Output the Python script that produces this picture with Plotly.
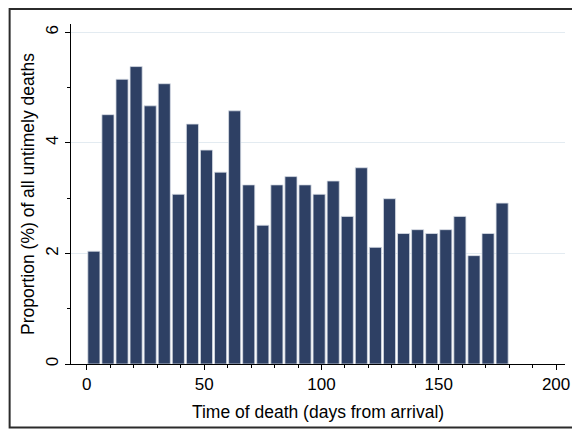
import plotly.graph_objects as go

# Data (proportion % per 6-day bin)
bin_start = [0, 6, 12, 18, 24, 30, 36, 42, 48, 54, 60, 66, 72, 78, 84, 90,
             96, 102, 108, 114, 120, 126, 132, 138, 144, 150, 156, 162, 168, 174]
bin_width_days = 6
proportion = [2.04, 4.51, 5.15, 5.38, 4.67, 5.07, 3.07, 4.34, 3.87, 3.47,
              4.58, 3.24, 2.51, 3.24, 3.39, 3.24, 3.07, 3.31, 2.67, 3.55,
              2.11, 2.99, 2.36, 2.43, 2.36, 2.43, 2.67, 1.96, 2.36, 2.91]

x_ticks = [0, 50, 100, 150, 200]
y_ticks = [0, 2, 4, 6]

centers = [s + bin_width_days / 2 for s in bin_start]

FONT = "Liberation Sans, Arial, sans-serif"

# page body has an 8px margin, so the figure is sized to the visible area
W, H = 572, 421
L, R, T, B = 63, 10, 16, 65
PW, PH = W - L - R, H - T - B

fig = go.Figure()
fig.add_trace(go.Bar(
    x=centers, y=proportion,
    width=[bin_width_days * 0.86] * len(centers),
    marker=dict(color="#2e4064", line=dict(color="#d8dde6", width=0.8)),
    hoverinfo="x+y",
))

fig.update_layout(
    width=W, height=H,
    margin=dict(l=L, r=R, t=T, b=B),
    paper_bgcolor="white", plot_bgcolor="white",
    showlegend=False,
    font=dict(family=FONT, size=17, color="#000000"),
    shapes=[dict(type="rect", xref="paper", yref="paper",
                 x0=(1 - L) / PW, x1=(W + 20 - L) / PW,
                 y0=-(H - 1.5 - (T + PH)) / PH, y1=1 + (T - 1) / PH,
                 line=dict(color="#2b2b2b", width=2), layer="below")],
)

fig.update_xaxes(
    range=[-6.75, 203.8],
    tickmode="array", tickvals=x_ticks, ticktext=[str(v) for v in x_ticks],
    ticks="outside", ticklen=5, tickwidth=1, tickcolor="#000",
    minor=dict(dtick=10, tick0=0, ticks="outside", ticklen=3, tickcolor="#000", showgrid=False),
    showline=True, linecolor="#000", linewidth=1,
    showgrid=False, zeroline=False,
    tickfont=dict(size=17),
    title=dict(text="Time of death (days from arrival)", font=dict(size=17.5), standoff=12),
)

fig.update_yaxes(
    range=[0, 6.15],
    tickmode="array", tickvals=y_ticks, ticktext=[str(v) for v in y_ticks],
    tickangle=-90,
    ticks="outside", ticklen=5, tickwidth=1, tickcolor="#000",
    minor=dict(dtick=1, tick0=0, ticks="outside", ticklen=3, tickcolor="#000", showgrid=False),
    showline=True, linecolor="#000", linewidth=1,
    showgrid=True, gridcolor="#e3ebf1", gridwidth=1,
    zeroline=False,
    tickfont=dict(size=17),
    title=dict(text="Proportion (%) of all untimely deaths", font=dict(size=17.5), standoff=4),
)

fig.write_html("out.html")
